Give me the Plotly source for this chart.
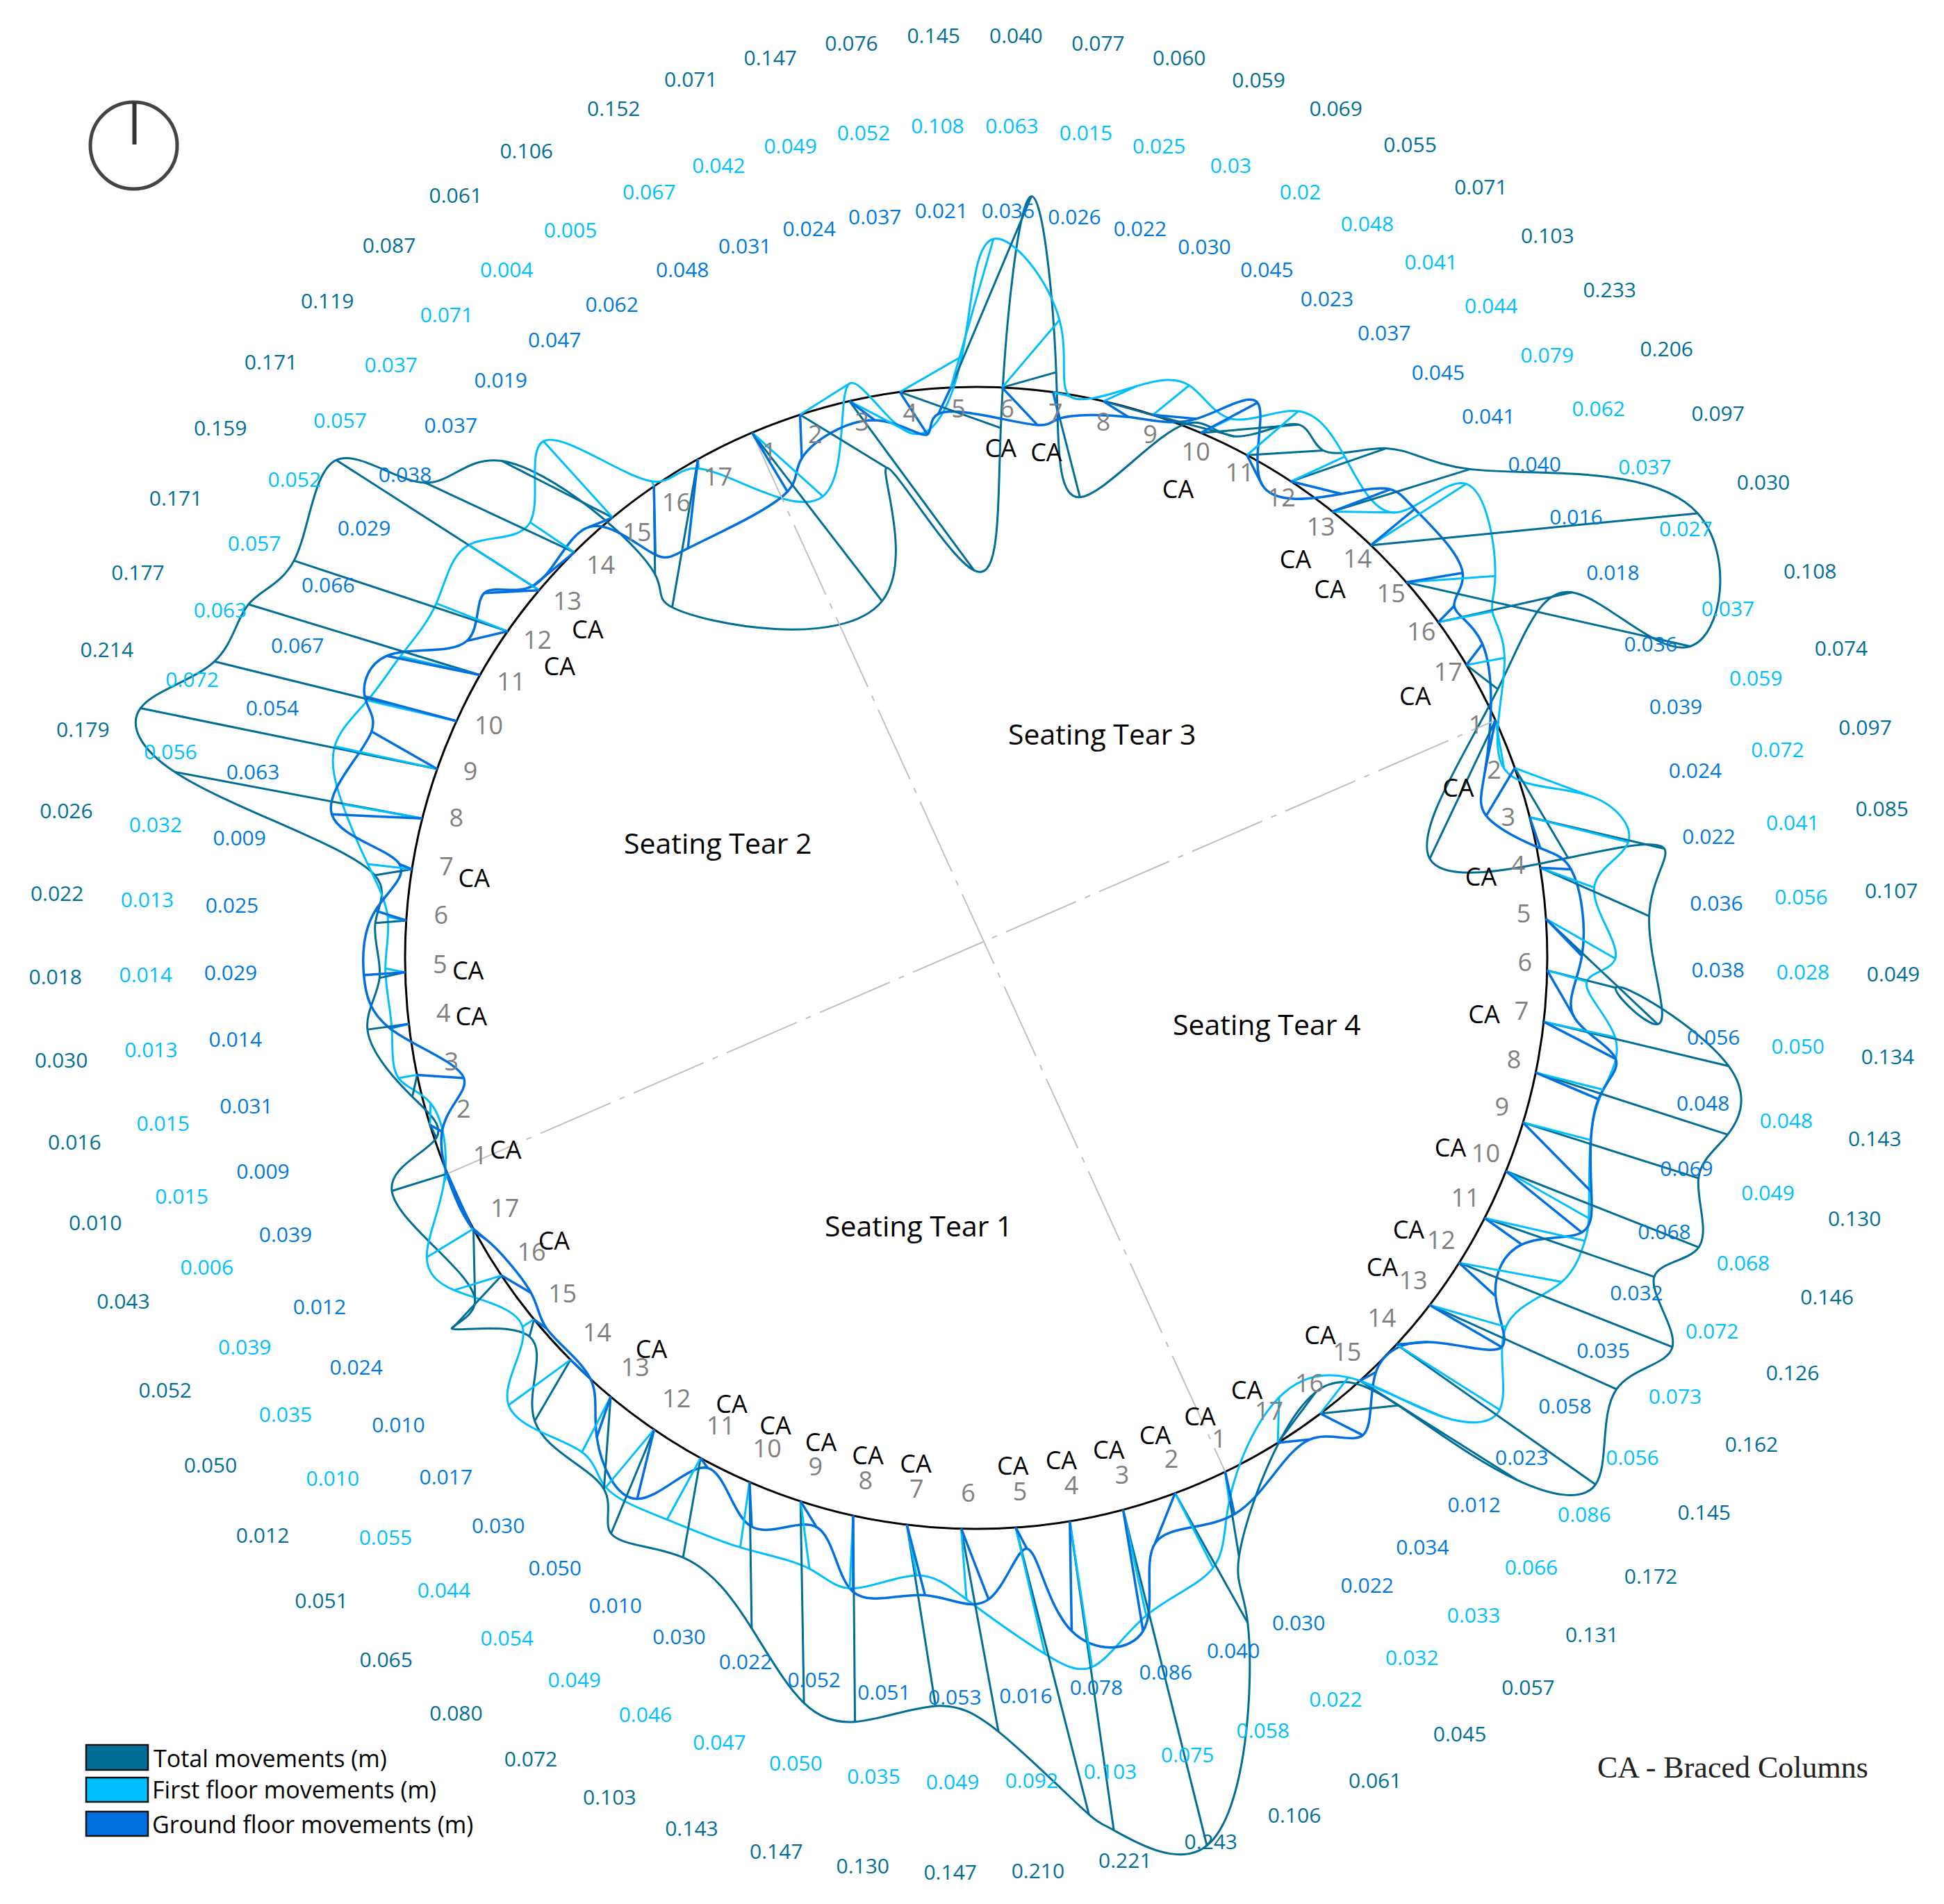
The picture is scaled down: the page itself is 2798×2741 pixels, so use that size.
import math
import numpy as np
import plotly.graph_objects as go

W, H = 2798, 2741
PX_PER_MM = 2.055
CX, CY = 1405, 1379   # circle centre on the page
RADIUS = 400          # seating ring radius, same units as the movements (mm)
KNOT_POWER = 0.4      # 0 = uniform knots, 1 = chord length

# the four tears, clockwise from the top: first column bearing, step between columns
tear_start = [-23.1, 65.4, 154.15, 247.8]
tear_step = [5.14, 5.17, 5.47, 5.19]
column_names = [str(i) for i in range(1, 18)] * 4

braced_tear3 = [6, 7, 10, 13, 14, 17]
braced_tear4 = [2, 4, 7, 10, 12, 13, 15, 17]
braced_tear1 = [1, 2, 3, 4, 5, 7, 8, 9, 10, 11, 13, 16]
braced_tear2 = [1, 4, 5, 7, 12, 13]

# printed values, tear 3 / tear 4 / tear 1 / tear 2
total_labels = [
    "0.152", "0.071", "0.147", "0.076", "0.145", "0.040", "0.077", "0.060", "0.059", "0.069", "0.055", "0.071", "0.103", "0.233", "0.206", "0.097", "0.030",
    "0.108", "0.074", "0.097", "0.085", "0.107", "0.049", "0.134", "0.143", "0.130", "0.146", "0.126", "0.162", "0.145", "0.172", "0.131", "0.057", "0.045",
    "0.061", "0.106", "0.243", "0.221", "0.210", "0.147", "0.130", "0.147", "0.143", "0.103", "0.072", "0.080", "0.065", "0.051", "0.012", "0.050", "0.052",
    "0.043", "0.010", "0.016", "0.030", "0.018", "0.022", "0.026", "0.179", "0.214", "0.177", "0.171", "0.159", "0.171", "0.119", "0.087", "0.061", "0.106"]
first_labels = [
    "0.067", "0.042", "0.049", "0.052", "0.108", "0.063", "0.015", "0.025", "0.03", "0.02", "0.048", "0.041", "0.044", "0.079", "0.062", "0.037", "0.027",
    "0.037", "0.059", "0.072", "0.041", "0.056", "0.028", "0.050", "0.048", "0.049", "0.068", "0.072", "0.073", "0.056", "0.086", "0.066", "0.033", "0.032",
    "0.022", "0.058", "0.075", "0.103", "0.092", "0.049", "0.035", "0.050", "0.047", "0.046", "0.049", "0.054", "0.044", "0.055", "0.010", "0.035", "0.039",
    "0.006", "0.015", "0.015", "0.013", "0.014", "0.013", "0.032", "0.056", "0.072", "0.063", "0.057", "0.052", "0.057", "0.037", "0.071", "0.004", "0.005"]
ground_labels = [
    "0.048", "0.031", "0.024", "0.037", "0.021", "0.036", "0.026", "0.022", "0.030", "0.045", "0.023", "0.037", "0.045", "0.041", "0.040", "0.016", "0.018",
    "0.036", "0.039", "0.024", "0.022", "0.036", "0.038", "0.056", "0.048", "0.069", "0.068", "0.032", "0.035", "0.058", "0.023", "0.012", "0.034", "0.022",
    "0.030", "0.040", "0.086", "0.078", "0.016", "0.053", "0.051", "0.052", "0.022", "0.030", "0.010", "0.050", "0.030", "0.017", "0.010", "0.024", "0.012",
    "0.039", "0.009", "0.031", "0.014", "0.029", "0.025", "0.009", "0.063", "0.054", "0.067", "0.066", "0.029", "0.038", "0.037", "0.019", "0.047", "0.062"]

# movement of each column in mm
total_east = [
    91, 60.8, 87.3, 70.7, 56.3, 37.9, 18.8, 57, 57, 68.8, 53.5, 66.8, 96.5, 228.9, 198.9, 93.7, 22,
    -46, 37.3, 94.3, 76.4, 78.2, 48.1, 129.6, 134.5, 122.9, 135, 118.8, 149.4, 130.9, 139.4, 110, 54.6, 26.7,
    9.7, 50.9, 58.7, 30.8, 51.3, 26.1, 20.1, 1.3, 2.4, 1.5, -12.3, -30.2, -4.7, -25.1, -3.2, -34.8, 1.1,
    -38.9, 4.5, -3.4, -29, -18, -21.7, -26, -173.4, -207.8, -169.6, -162.2, -149.7, -142.2, -104.4, -77.7, 0.8, -18]
total_north = [
    -118, -37.2, -118.6, -25.2, 133.8, 10.7, -73.6, -16, -15, 5.8, 3.3, 23.2, 29.7, 22.4, -44.9, 21, -16.9,
    -97, -63, -22, -33.9, -73.8, -12.2, -31.1, -43.4, -39, -53.3, -41.2, -59, -59, -98.1, -69.5, 5.7, 35.6,
    -59.4, -90.9, -235.3, -216.5, -201, -142.2, -127, -144.5, -141.3, -102.5, -69.7, -72.9, -64.8, -42.9, -12.1, -37.3, -50.3,
    -12.1, -9, -15.3, -4, -4, -1.7, -4.3, 32.6, 42.6, 41.7, 49.5, 49.5, 91.2, 48.7, 39.7, -61.6, -103.7]
first_east = [
    49.6, 34.7, 42.7, 43.4, 29.8, 40.2, 11.9, 23.6, 25.5, 21, 36, 37.7, 44.2, 66.8, 62.3, 37.9, 26.7,
    6.1, 53.8, 69, 37.9, 48.6, 27.8, 50, 47.4, 47.3, 58, 70.2, 72, 53.5, 72.3, 57.8, 19.6, 0.9,
    2.8, 26.7, 16.2, 15.5, 20.5, 3.7, 6.7, -2.4, 6.2, -6.5, -23.5, -33.9, -20.1, -43.4, -8.1, -33.2, -32.7,
    -2.3, 0.3, -13.1, -12, -13.9, -13, -31, -55.9, -71.8, -62.4, -55.9, -50, -49.4, -30.9, -48.4, -1.2, 0.6]
first_north = [
    -44.6, 21.9, -22.3, 25, 104, 47.3, -2.9, 10.7, 20.7, 10, 30.8, 17.4, -0.7, 43, 4.3, 7.6, 5,
    -33.9, -20, -17.4, -13.9, -27.8, -7.8, -10.8, -12, -12.2, -33, -16, -13.4, -15.3, -45.7, -25.2, 25.4, 31.8,
    -20.7, -52.2, -74.2, -102.2, -88.6, -49.5, -35.6, -51, -47.3, -45.8, -43.1, -40.5, -38.9, -31.7, -5.2, -10.3, -19.9,
    -5.6, 15.3, -2.2, -3, 2.6, 2.6, 3.5, 10, 15.9, 14.4, 13, 19.6, 31.7, 21, 53.5, 3.6, -6.5]
ground_east = [
    24.8, 1.2, 17.9, 19.3, -8.7, 24.8, 4.5, 17.4, 30.5, 39.7, 10.5, 35.4, 40.7, 30.7, 39.5, 11.2, 11.2,
    -7.3, -20, 7.5, 21.7, 25.2, 18.6, 50.4, 44, 47.9, 53.1, 26.1, 25.6, 50.4, 22, 11.2, 29.8, 22.4,
    6.5, -14, 14, 1.3, 7.8, 19.2, 12.7, 0, 11.2, 1.5, 5, -11.9, -9.7, 13.8, 8.9, 20.6, 8.9,
    16.7, 8.4, 32.7, -13.5, -29, -21.7, -8.7, -63.4, -46, -64.3, -65.2, -28.5, -38.4, -28.8, -16.1, 1, -7]
ground_north = [
    -41.3, -30.5, -13.4, -29.7, -18.5, -26.3, -18.5, -11, -2.7, 21.2, -20.5, -8.7, 15.6, 25.4, 6.5, 11.5, 14.8,
    -35.6, -33.5, -21.7, -1.2, -26, -32.1, -26, -18.6, -48.6, -42.9, -18.6, -23.4, -29.5, 1.7, 6.1, -15.1, 2.3,
    -29.7, -35.1, -85, -77, -14.8, -49.5, -49.4, -53.5, -18.1, -31.3, -7, -48.6, -28.4, -13, -6.5, -12.1, -7.5,
    -37.3, -4.7, -2.2, -3, -2, 7, 3.5, 2.9, 26.3, 17.3, 13.4, -6.7, -1.9, -23.5, -6.5, -47.8, -62.4]

TOTAL_COLOR = "#006e96"
FIRST_COLOR = "#00bfff"
GROUND_COLOR = "#0070e0"
LABEL_FONT = "Open Sans"


def bearings():
    out = []
    for start, step in zip(tear_start, tear_step):
        out += [start + i * step for i in range(17)]
    return out


def polar(r, bearing, dx=0, dy=0):
    a = math.radians(bearing)
    return r * math.sin(a) + dx, r * math.cos(a) + dy


def ring_text(fig, r, texts, angles, color, size, dx=0, dy=0):
    pts = [polar(r, a, dx, dy) for a in angles]
    fig.add_trace(go.Scatter(x=[p[0] for p in pts], y=[p[1] for p in pts], mode="text", text=texts,
                             textposition="middle center", cliponaxis=False, hoverinfo="skip",
                             textfont=dict(family=LABEL_FONT, size=size, color=color)))


def closed_curve_path(points):
    '''
    closed C2 cubic through the points, written as an svg bezier path
    '''
    p = np.array(points)
    n = len(p)
    h = np.linalg.norm(np.roll(p, -1, axis=0) - p, axis=1) ** KNOT_POWER
    a = np.zeros((n, n))
    b = np.zeros((n, 2))
    for i in range(n):
        prev, nxt = (i - 1) % n, (i + 1) % n
        a[i, prev] += h[i]
        a[i, i] += 2 * (h[prev] + h[i])
        a[i, nxt] += h[prev]
        b[i] = 3 * (h[i] * (p[i] - p[prev]) / h[prev] + h[prev] * (p[nxt] - p[i]) / h[i])
    d = np.linalg.solve(a, b)
    path = f"M {p[0][0]:.2f} {p[0][1]:.2f}"
    for i in range(n):
        nxt = (i + 1) % n
        c1 = p[i] + d[i] * h[i] / 3
        c2 = p[nxt] - d[nxt] * h[i] / 3
        path += f" C {c1[0]:.2f} {c1[1]:.2f}, {c2[0]:.2f} {c2[1]:.2f}, {p[nxt][0]:.2f} {p[nxt][1]:.2f}"
    return path + " Z"


def add_series(fig, east, north, color, width, angles):
    base = [polar(RADIUS, a) for a in angles]
    ends = [(b[0] + e, b[1] + n) for b, e, n in zip(base, east, north)]
    # arms from the ring to the moved point
    xs, ys = [], []
    for b, e in zip(base, ends):
        xs += [b[0], e[0], None]
        ys += [b[1], e[1], None]
    fig.add_trace(go.Scatter(x=xs, y=ys, mode="lines", line=dict(color=color, width=width), hoverinfo="skip"))
    fig.add_shape(type="path", xref="x", yref="y", path=closed_curve_path(ends), layer="below",
                  line=dict(color=color, width=width))


def page_x(px):
    return px / W


def page_y(px):
    return 1 - px / H


angles = bearings()
fig = go.Figure()

fig.add_shape(type="circle", xref="x", yref="y", x0=-RADIUS, x1=RADIUS, y0=-RADIUS, y1=RADIUS,
              line=dict(color="black", width=3), layer="below")

# tear divisions
for i, j in ((0, 34), (51, 17)):
    a, b = polar(RADIUS, angles[i]), polar(RADIUS, angles[j])
    fig.add_trace(go.Scatter(x=[a[0], b[0]], y=[a[1], b[1]], mode="lines", hoverinfo="skip",
                             line=dict(color="#c0c0c0", width=2, dash="110px,14px,8px,14px")))

add_series(fig, total_east, total_north, TOTAL_COLOR, 3, angles)
add_series(fig, first_east, first_north, FIRST_COLOR, 3, angles)
add_series(fig, ground_east, ground_north, GROUND_COLOR, 3.5, angles)

# value rings
ring_text(fig, 643.8, total_labels, angles, TOTAL_COLOR, 30, dx=-1.3, dy=1.3)
ring_text(fig, 580.5, first_labels, angles, FIRST_COLOR, 30, dx=-1.3, dy=1.3)
ring_text(fig, 521, ground_labels, angles, "#0078dc", 30, dx=-1.3, dy=1.3)

# column numbers and braced columns
ring_text(fig, 380, column_names, angles, "#808080", 36, dx=4.4, dy=3.4)
braced = []
for k, cols in enumerate((braced_tear3, braced_tear4, braced_tear1, braced_tear2)):
    braced += [tear_start[k] + (c - 1) * tear_step[k] for c in cols]
ring_text(fig, 357, ["CA"] * len(braced), braced, "#000000", 36, dx=1, dy=-1.6)

# compass
fig.add_shape(type="circle", xref="paper", yref="paper", x0=page_x(130), x1=page_x(255),
              y0=page_y(272), y1=page_y(147), line=dict(color="#444444", width=5))
fig.add_shape(type="line", xref="paper", yref="paper", x0=page_x(193.5), x1=page_x(193.5),
              y0=page_y(208), y1=page_y(147), line=dict(color="#333333", width=6))

annotations = []


def note(text, px, py, size, family=LABEL_FONT, anchor="center", color="black"):
    annotations.append(dict(text=text, x=page_x(px), y=page_y(py), xref="paper", yref="paper", showarrow=False,
                            xanchor=anchor, yanchor="middle", font=dict(family=family, size=size, color=color)))


note("Seating Tear 3", 1586, 1056, 41)
note("Seating Tear 2", 1033, 1213, 41)
note("Seating Tear 4", 1823, 1474, 41)
note("Seating Tear 1", 1322, 1764, 41)
note("CA - Braced Columns", 2494, 2544, 44, family="Liberation Serif", color="#222222")

# key
key_rows = [("Total movements (m)", TOTAL_COLOR, 2512, 2548, 2531, 219),
            ("First floor movements (m)", FIRST_COLOR, 2559, 2594, 2576, 217),
            ("Ground floor movements (m)", GROUND_COLOR, 2608, 2643, 2626, 217)]
for label, color, top, bottom, mid, left in key_rows:
    fig.add_shape(type="rect", xref="paper", yref="paper", x0=page_x(124), x1=page_x(213),
                  y0=page_y(bottom), y1=page_y(top), fillcolor=color, line=dict(color="#111111", width=2.5))
    note(label, left, mid, 34, anchor="left")

fig.update_layout(width=W, height=H, autosize=False, showlegend=False, paper_bgcolor="white", plot_bgcolor="white",
                  margin=dict(l=0, r=0, t=0, b=0), annotations=annotations)
fig.update_xaxes(visible=False, range=[-CX / PX_PER_MM, (W - CX) / PX_PER_MM], fixedrange=True)
fig.update_yaxes(visible=False, range=[-(H - CY) / PX_PER_MM, CY / PX_PER_MM], fixedrange=True)

fig.write_html("out.html", config={"displayModeBar": False}, post_script="document.body.style.margin='0';")
